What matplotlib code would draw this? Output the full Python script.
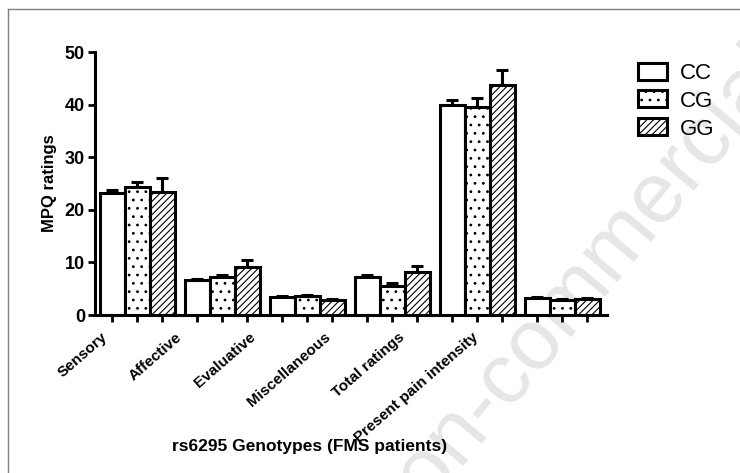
import numpy as np
import matplotlib.pyplot as plt

# MPQ subscales and genotype groups
categories = ['Sensory', 'Affective', 'Evaluative', 'Miscellaneous',
              'Total ratings', 'Present pain intensity']
genotypes = ['CC', 'CG', 'GG']

# mean ratings per genotype
cc_mean = [23.2, 6.6, 3.4, 7.2, 39.9, 3.2]
cg_mean = [24.3, 7.2, 3.6, 5.5, 39.6, 2.8]
gg_mean = [23.4, 9.1, 2.9, 8.2, 43.7, 3.0]

# upper error bars (SEM)
cc_err = [0.5, 0.3, 0.2, 0.4, 1.0, 0.2]
cg_err = [1.0, 0.4, 0.2, 0.6, 1.6, 0.2]
gg_err = [2.6, 1.3, 0.2, 1.1, 2.8, 0.2]

means = [cc_mean, cg_mean, gg_mean]
errs = [cc_err, cg_err, gg_err]
hatches = ['', '..', '/////']

plt.rcParams['font.family'] = ['Liberation Sans', 'DejaVu Sans']
plt.rcParams['hatch.linewidth'] = 0.8

fig = plt.figure(figsize=(7.4, 4.73), dpi=100)
ax = fig.add_axes([0.128, 0.334, 0.692, 0.556])
ax.patch.set_alpha(0)

pitch = 3.4
x = np.arange(len(categories)) * pitch
for i, g in enumerate(genotypes):
    ax.bar(x + i, means[i], width=1.0, color='white', edgecolor='black',
           linewidth=2.2, hatch=hatches[i], label=g, zorder=3)
    ax.errorbar(x + i, means[i], yerr=[np.zeros(len(errs[i])), errs[i]],
                fmt='none', ecolor='black', elinewidth=2.2, capsize=4,
                capthick=2.2, zorder=2)

ax.set_xlim(-0.7, 19.78)
ax.set_ylim(0, 50)
ax.set_yticks(range(0, 51, 10))

# tick marks under every bar
tick_pos = np.sort(np.concatenate([x + i for i in range(3)]))
ax.set_xticks(tick_pos)
ax.set_xticklabels([])

# category labels, slanted, spaced like the original (GraphPad style)
label_x = np.arange(len(categories)) * 2.97 - 0.45
for lx, name in zip(label_x, categories):
    ax.text(lx, -0.058, name, transform=ax.get_xaxis_transform(),
            rotation=41, ha='right', va='top', rotation_mode='anchor',
            fontsize=11, fontweight='bold')

for t in ax.get_yticklabels():
    t.set_fontsize(13)
    t.set_fontweight('bold')

for s in ['top', 'right']:
    ax.spines[s].set_visible(False)
for s in ['left', 'bottom']:
    ax.spines[s].set_linewidth(2.2)
ax.tick_params(axis='both', direction='out', width=2, length=5, pad=2)

ax.set_ylabel('MPQ ratings', fontsize=12, fontweight='bold', labelpad=6)
fig.text(0.419, 0.055, 'rs6295 Genotypes (FMS patients)', ha='center',
         va='center', fontsize=12.5, fontweight='bold')

leg = ax.legend(loc='upper left', bbox_to_anchor=(0.835, 0.91),
                bbox_transform=fig.transFigure, frameon=False, fontsize=16,
                handlelength=1.3, handleheight=0.8, handletextpad=0.6,
                labelspacing=0.3)

# watermark and page frame
fig.text(0.773, 0.378, 'Non-commercial', rotation=50, fontsize=62,
         color='#e6e6e6', ha='center', va='center', zorder=-1)
fig.add_artist(plt.Line2D([0.011, 0.011], [0.0, 0.981], color='#808080',
                          linewidth=1))
fig.add_artist(plt.Line2D([0.011, 1.0], [0.981, 0.981], color='#808080',
                          linewidth=1))

fig.savefig('out.png', dpi=100)
